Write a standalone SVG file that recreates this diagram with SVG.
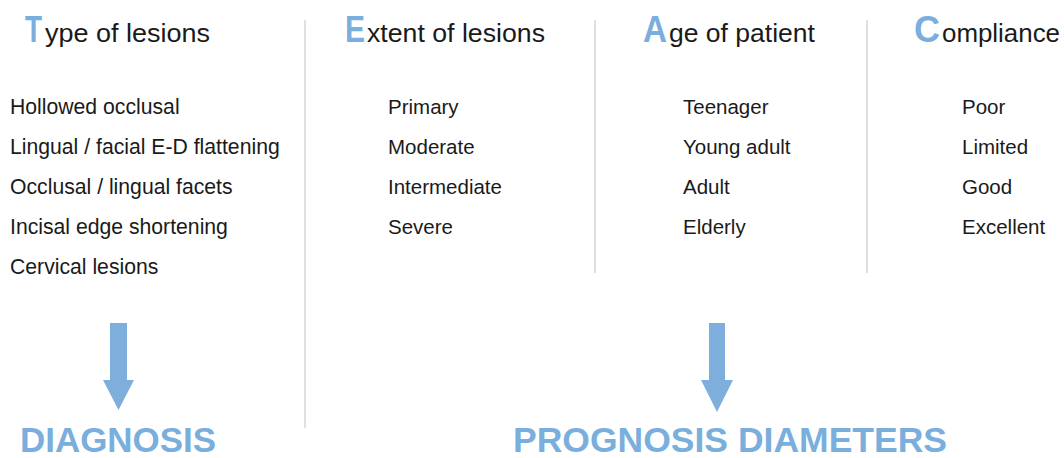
<svg xmlns="http://www.w3.org/2000/svg" width="1064" height="458" viewBox="0 0 1064 458">
<style>
.big{font-family:"Liberation Sans",Arial,sans-serif;font-size:36px;font-weight:bold;fill:#7aaedd}
.hd{font-family:"Liberation Sans",Arial,sans-serif;font-size:26px;fill:#1a1a1a}
.it{font-family:"Liberation Sans",Arial,sans-serif;font-size:20.5px;fill:#1a1a1a}
.it1{font-family:"Liberation Sans",Arial,sans-serif;font-size:21.2px;fill:#1a1a1a}
.res{font-family:"Liberation Sans",Arial,sans-serif;font-size:35px;font-weight:bold;fill:#7aaedd}
.div{stroke:#d6d6d6;stroke-width:1.5;fill:none}
.arr{fill:#7eafdc}
</style>
<rect width="1064" height="458" fill="#ffffff"/>
<g id="dividers">
<line class="div" x1="305" y1="20" x2="305" y2="428"/>
<line class="div" x1="595" y1="20" x2="595" y2="273"/>
<line class="div" x1="867" y1="20" x2="867" y2="273"/>
</g>
<g id="type">
<text class="big" x="25" y="42" textLength="17" lengthAdjust="spacingAndGlyphs">T</text>
<text class="hd" x="45" y="42" textLength="165" lengthAdjust="spacingAndGlyphs">ype of lesions</text>
<text class="it1" x="10" y="114">Hollowed occlusal</text>
<text class="it1" x="10" y="154">Lingual / facial E-D flattening</text>
<text class="it1" x="10" y="194">Occlusal / lingual facets</text>
<text class="it1" x="10" y="234">Incisal edge shortening</text>
<text class="it1" x="10" y="274">Cervical lesions</text>
</g>
<g id="extent">
<text class="big" x="345" y="42" textLength="20" lengthAdjust="spacingAndGlyphs">E</text>
<text class="hd" x="367" y="42" textLength="178" lengthAdjust="spacingAndGlyphs">xtent of lesions</text>
<text class="it" x="388" y="114">Primary</text>
<text class="it" x="388" y="154">Moderate</text>
<text class="it" x="388" y="194">Intermediate</text>
<text class="it" x="388" y="234">Severe</text>
</g>
<g id="age">
<text class="big" x="643" y="42" textLength="24" lengthAdjust="spacingAndGlyphs">A</text>
<text class="hd" x="669" y="42" textLength="146" lengthAdjust="spacingAndGlyphs">ge of patient</text>
<text class="it" x="683" y="114">Teenager</text>
<text class="it" x="683" y="154">Young adult</text>
<text class="it" x="683" y="194">Adult</text>
<text class="it" x="683" y="234">Elderly</text>
</g>
<g id="compliance">
<text class="big" x="914" y="42" textLength="26" lengthAdjust="spacingAndGlyphs">C</text>
<text class="hd" x="942" y="42" textLength="118" lengthAdjust="spacingAndGlyphs">ompliance</text>
<text class="it" x="962" y="114">Poor</text>
<text class="it" x="962" y="154">Limited</text>
<text class="it" x="962" y="194">Good</text>
<text class="it" x="962" y="234">Excellent</text>
</g>
<g id="connectors">
<polygon class="arr" points="110,323 127,323 127,380 134,380 118.5,410 103,380 110,380"/>
<polygon class="arr" points="709,323 725,323 725,380 733,380 717,412 701,380 709,380"/>
</g>
<g id="diagnosis">
<text class="res" x="20" y="452" textLength="196" lengthAdjust="spacingAndGlyphs">DIAGNOSIS</text>
</g>
<g id="prognosis">
<text class="res" x="513" y="452" textLength="434" lengthAdjust="spacingAndGlyphs">PROGNOSIS DIAMETERS</text>
</g>
</svg>
